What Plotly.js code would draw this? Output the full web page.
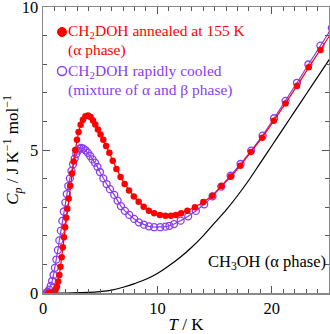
<!DOCTYPE html>
<html><head><meta charset="utf-8">
<script src="https://cdn.plot.ly/plotly-3.0.1.min.js"></script>
<style>html,body{margin:0;padding:0;background:#fff}#c{width:330px;height:334px}</style>
</head><body><div id="c"></div>
<script>
const annealT = [0.45,0.60,0.75,0.88,1.00,1.11,1.22,1.33,1.43,1.53,1.63,1.73,1.83,1.93,2.03,2.13,2.24,2.38,2.53,2.68,2.82,2.97,3.11,3.29,3.49,3.71,3.93,4.16,4.37,4.57,4.80,5.03,5.27,5.52,5.80,6.10,6.42,6.78,7.14,7.52,7.94,8.36,8.80,9.25,9.72,10.22,10.70,11.18,11.62,12.08,12.62,13.28,14.02,14.80,15.60,16.42,17.24,18.17,19.15,20.17,21.20,22.20,23.23,24.25,25.25];
const annealCp = [0.00,0.00,0.01,0.02,0.05,0.11,0.22,0.40,0.63,0.92,1.25,1.60,1.95,2.30,2.63,2.95,3.30,3.75,4.18,4.60,5.00,5.36,5.63,5.88,6.06,6.18,6.21,6.15,6.03,5.89,5.72,5.54,5.36,5.14,4.90,4.62,4.34,4.06,3.81,3.58,3.37,3.19,3.02,2.88,2.79,2.73,2.70,2.70,2.73,2.79,2.88,3.00,3.18,3.40,3.74,4.07,4.45,4.93,5.43,6.02,6.63,7.24,7.89,8.50,9.12];
const cooledT = [0.30,0.42,0.55,0.68,0.80,0.92,1.04,1.17,1.30,1.43,1.56,1.69,1.82,1.95,2.08,2.21,2.35,2.49,2.63,2.77,2.91,3.06,3.20,3.35,3.53,3.72,3.92,4.12,4.33,4.54,4.76,4.98,5.27,5.56,5.85,6.23,6.52,6.81,7.16,7.54,7.97,8.38,8.82,9.26,9.72,10.25,10.70,11.05,11.45,12.03,12.69,13.36,14.09,14.82,15.58,16.40,17.27,18.20,19.20,20.20,21.20,22.20,23.20,24.25,25.25];
const cooledCp = [0.01,0.04,0.12,0.25,0.42,0.63,0.88,1.17,1.50,1.84,2.18,2.52,2.85,3.16,3.46,3.74,4.01,4.27,4.50,4.70,4.86,4.98,5.05,5.07,5.05,4.99,4.90,4.79,4.67,4.56,4.41,4.23,4.01,3.81,3.63,3.43,3.23,3.04,2.87,2.73,2.59,2.47,2.39,2.33,2.30,2.30,2.32,2.35,2.41,2.53,2.68,2.87,3.10,3.38,3.72,4.10,4.51,4.98,5.50,6.11,6.72,7.35,7.99,8.65,9.27];
const ch3ohT = [0,2,3,4,5,6,7,8,9,10,11,12,13,14,15,16,17,18,19,20,21,22,23,24,25,25.5];
const ch3ohCp = [0,0,0.01,0.02,0.05,0.10,0.20,0.33,0.48,0.68,0.95,1.25,1.60,2.00,2.45,2.90,3.40,3.95,4.55,5.15,5.75,6.35,6.95,7.55,8.15,8.45];
const xTickVals = [0,10,20];
const yTickVals = [0,5,10];

const red = '#ff0000', purple = '#8a3cf0';
const serif = 'Liberation Serif, Times New Roman, serif';
const px = v => (v-43)/286, py = v => (293-v)/286;
const traces = [
  {x: ch3ohT, y: ch3ohCp, mode:'lines', line:{color:'#000', width:1.2, shape:'spline'}, hoverinfo:'skip'},
  {x: cooledT, y: cooledCp, mode:'lines+markers', line:{color:purple, width:1.2},
   marker:{symbol:'circle-open', size:7, color:purple, line:{width:1.3, color:purple}}},
  {x: annealT, y: annealCp, mode:'lines+markers', line:{color:red, width:1.2},
   marker:{symbol:'circle', size:6.5, color:red}}
];
const axisCommon = {
  showgrid:false, zeroline:false, showline:true, linecolor:'#888', linewidth:1.5,
  mirror:'ticks', ticks:'inside', ticklen:7, tickwidth:1, tickcolor:'#555',
  ticklabeloverflow:'allow',
  tickfont:{family:serif, size:16.5, color:'#000'},
};
function lab(x, y, text, color, size){
  return {xref:'paper', yref:'paper', x:px(x), y:py(y), xanchor:'left', yanchor:'middle', showarrow:false,
    borderpad:0, text:text, font:{family:serif, size:size || 15.5, color:color}};
}
const layout = {
  width:330, height:334, showlegend:false,
  margin:{l:43, r:1, t:7, b:41},
  paper_bgcolor:'#fff', plot_bgcolor:'#fff',
  font:{family:serif, color:'#000'},
  xaxis: Object.assign({}, axisCommon, {range:[0,25], tickvals:xTickVals, ticktext:xTickVals.map(String),
    minor:{dtick:1, tick0:0, ticks:'inside', ticklen:4, tickcolor:'#555'},
    title:{text:'<i>T</i> / K', font:{family:serif, size:17}, standoff:6}}),
  yaxis: Object.assign({}, axisCommon, {range:[0,10], tickvals:yTickVals, ticktext:yTickVals.map(String),
    minor:{dtick:1, tick0:0, ticks:'inside', ticklen:4, tickcolor:'#555'},
    title:{text:'<i>C</i><sub><i>p</i></sub> / J K<sup>−1</sup> mol<sup>−1</sup>', font:{family:serif, size:17}, standoff:4}}),
  shapes:[
    {type:'circle', xref:'paper', yref:'paper', xsizemode:'pixel', ysizemode:'pixel',
     xanchor:px(62), yanchor:py(32), x0:-4.5, x1:4.5, y0:-4.5, y1:4.5,
     fillcolor:red, line:{color:red, width:1}},
    {type:'circle', xref:'paper', yref:'paper', xsizemode:'pixel', ysizemode:'pixel',
     xanchor:px(62), yanchor:py(71), x0:-4.5, x1:4.5, y0:-4.5, y1:4.5,
     fillcolor:'rgba(0,0,0,0)', line:{color:purple, width:1.4}}
  ],
  annotations:[
    lab(67, 32, 'CH<sub>2</sub>DOH annealed at 155 K', red),
    lab(67, 50, '(α phase)', red),
    lab(67, 71, 'CH<sub>2</sub>DOH rapidly cooled', purple),
    lab(67, 90, '(mixture of α and β phase)', purple),
    lab(207, 262, 'CH<sub>3</sub>OH (α phase)', '#000', 16.5)
  ]
};
Plotly.newPlot('c', traces, layout, {staticPlot:true});
</script></body></html>
